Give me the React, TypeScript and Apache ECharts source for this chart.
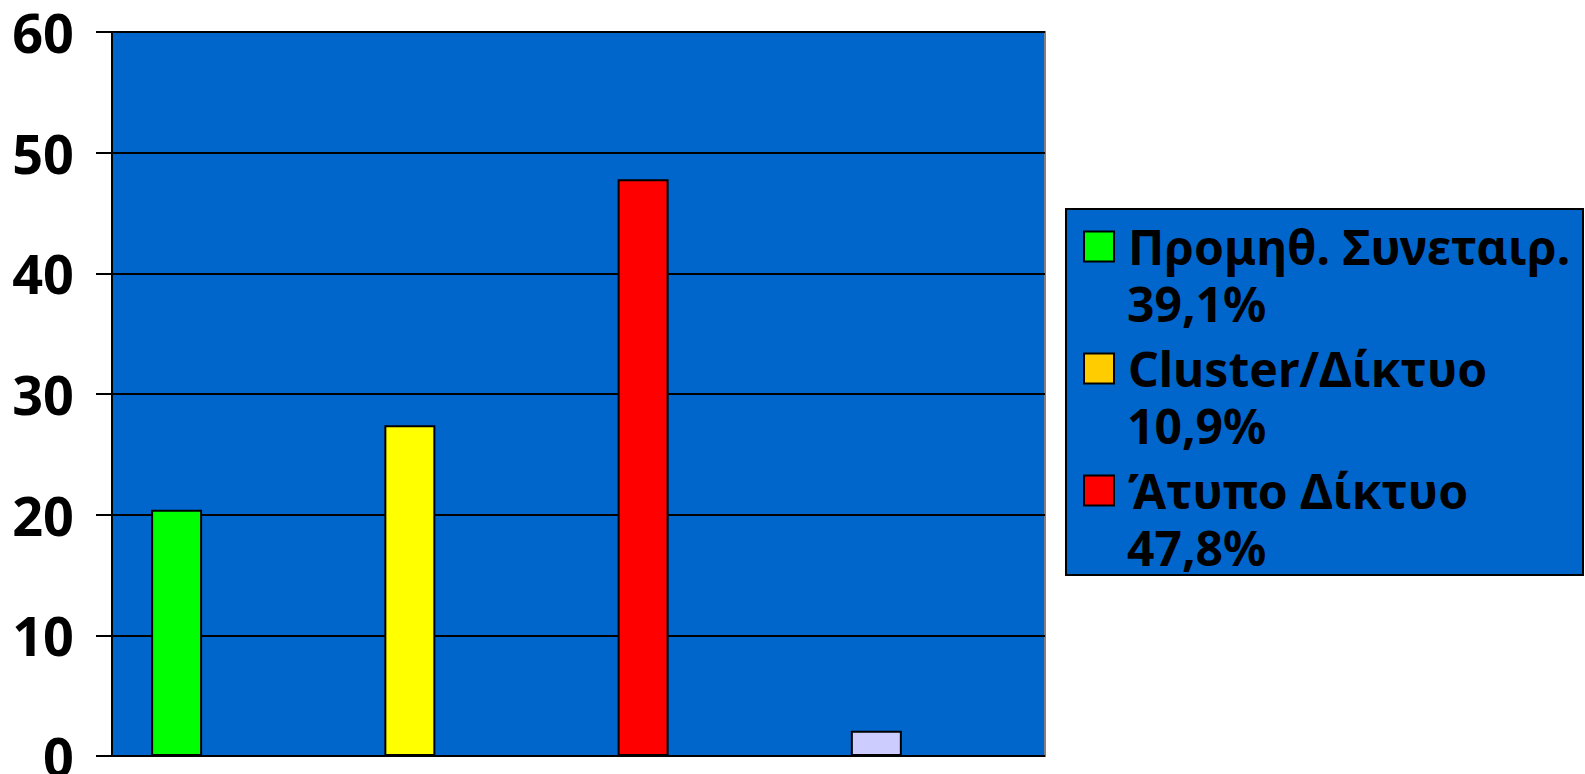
import React, { useEffect, useRef } from "react";
import * as echarts from "echarts";

const categories = ["Προμηθ. Συνεταιρ.", "Cluster/Δίκτυο", "Άτυπο Δίκτυο", "Άλλο"];
const values = [20.4, 27.4, 47.8, 2.1];
const barColors = ["#00FF00", "#FFFF00", "#FF0000", "#CCCCFF"];

const legendNames = ["Προμηθ. Συνεταιρ.", "Cluster/Δίκτυο", "Άτυπο Δίκτυο"];
const legendPercents = ["39,1%", "10,9%", "47,8%"];
const legendColors = ["#00FF00", "#FFCC00", "#FF0000"];

const yTicks = [0, 10, 20, 30, 40, 50, 60];

const FONT = "Noto Sans";
const LINE_H = 57;
const ITEM_STEP = 122;

export default function App() {
  const ref = useRef<HTMLDivElement>(null);
  useEffect(() => {
    if (!ref.current) return;
    const chart = echarts.init(ref.current, undefined, { renderer: "svg" });
    const pctByName: Record<string, string> = {};
    legendNames.forEach((n, i) => (pctByName[n] = legendPercents[i]));

    const legendSeries = legendNames.map((n, i) => ({
      name: n,
      type: "bar" as const,
      stack: "legend",
      barWidth: 51,
      data: [] as number[],
      itemStyle: { color: legendColors[i], borderColor: "#000", borderWidth: 2 },
    }));

    const legendText = {
      fontFamily: FONT,
      fontWeight: "bold" as const,
      fontSize: 48,
      color: "#000",
      lineHeight: LINE_H,
    };

    chart.setOption({
      animation: false,
      graphic: [
        {
          type: "rect",
          z: 0,
          shape: { x: 1066, y: 209, width: 517, height: 366 },
          style: { fill: "#0066CC", stroke: "#000", lineWidth: 2 },
        },
      ],
      grid: {
        left: 112,
        top: 32,
        width: 933,
        height: 724,
        show: true,
        backgroundColor: "#0066CC",
        borderColor: "#808080",
        borderWidth: 2,
        outerBoundsMode: "none",
        containLabel: false,
      },
      legend: [
        {
          orient: "vertical",
          left: 1083,
          top: 218,
          padding: 0,
          itemGap: ITEM_STEP - LINE_H,
          itemWidth: 30,
          itemHeight: 30,
          selectedMode: false,
          icon: "rect",
          data: legendNames,
          itemStyle: { borderColor: "#000", borderWidth: 2 },
          textStyle: { ...legendText, padding: [0, 0, 0, 9] },
        },
        {
          orient: "vertical",
          left: 1122,
          top: 218 + LINE_H,
          padding: 0,
          itemGap: ITEM_STEP - LINE_H,
          itemWidth: 0,
          itemHeight: 30,
          selectedMode: false,
          icon: "none",
          data: legendNames,
          formatter: (name: string) => pctByName[name],
          textStyle: { ...legendText },
        },
      ],
      xAxis: {
        type: "category",
        data: categories,
        axisLine: { show: false },
        axisTick: { show: false },
        axisLabel: { show: false },
        splitLine: { show: false },
      },
      yAxis: {
        type: "value",
        min: yTicks[0],
        max: yTicks[yTicks.length - 1],
        interval: 10,
        axisLine: { show: true, lineStyle: { color: "#000", width: 2 } },
        axisTick: { show: true, length: 16, inside: false, lineStyle: { color: "#000", width: 2 } },
        splitLine: { show: true, lineStyle: { color: "#000", width: 2 } },
        axisLabel: {
          margin: 38,
          fontFamily: FONT,
          fontWeight: "bold",
          fontSize: 54,
          color: "#000",
        },
      },
      series: [
        {
          name: "values",
          type: "bar",
          barWidth: 51,
          barGap: "104%",
          data: values.map((v, i) => ({
            value: v,
            itemStyle: { color: barColors[i] },
          })),
          itemStyle: { borderColor: "#000", borderWidth: 2 },
        },
        ...legendSeries,
      ],
    });
    return () => chart.dispose();
  }, []);
  return (
    <div
      ref={ref}
      style={{ position: "absolute", left: 0, top: 0, width: 1585, height: 774 }}
    />
  );
}
